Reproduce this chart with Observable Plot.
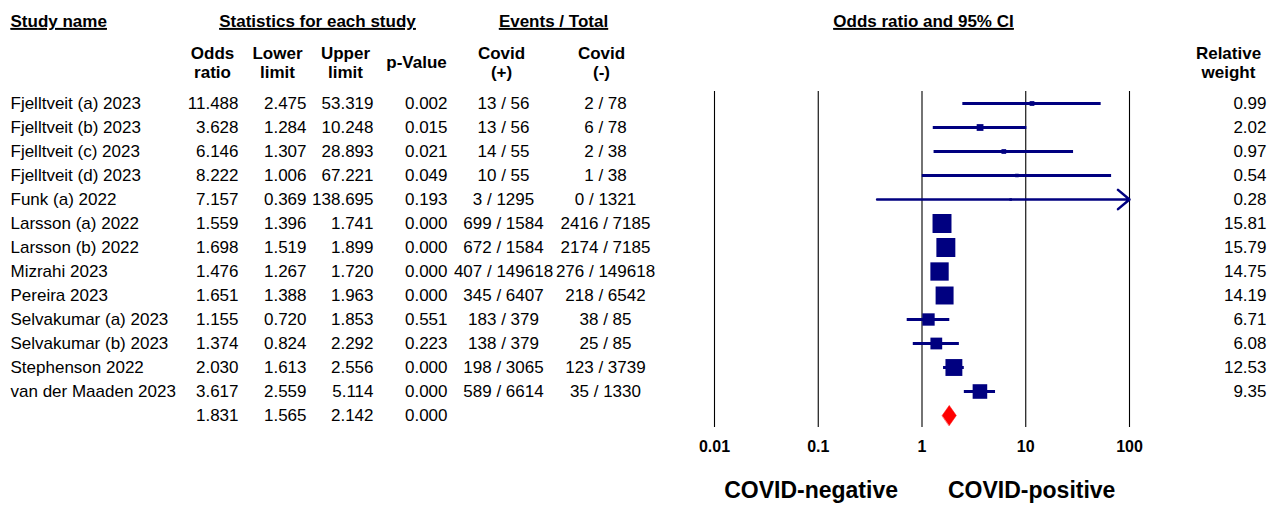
<!DOCTYPE html>
<html>
<head>
<meta charset="utf-8">
<script src="https://cdn.jsdelivr.net/npm/d3@7"></script>
<script src="https://cdn.jsdelivr.net/npm/@observablehq/plot@0.6"></script>
<style>
  body { margin: 0; background: #fff; }
  #chart { width: 1272px; height: 510px; }
</style>
</head>
<body>
<div id="chart"></div>
<script>
// ---- Data ----
const studies = [
  "Fjelltveit (a) 2023", "Fjelltveit (b) 2023", "Fjelltveit (c) 2023", "Fjelltveit (d) 2023",
  "Funk (a) 2022", "Larsson (a) 2022", "Larsson (b) 2022", "Mizrahi 2023", "Pereira 2023",
  "Selvakumar (a) 2023", "Selvakumar (b) 2023", "Stephenson 2022", "van der Maaden 2023"
];
const oddsRatio = [11.488, 3.628, 6.146, 8.222, 7.157, 1.559, 1.698, 1.476, 1.651, 1.155, 1.374, 2.030, 3.617];
const lowerLimit = [2.475, 1.284, 1.307, 1.006, 0.369, 1.396, 1.519, 1.267, 1.388, 0.720, 0.824, 1.613, 2.559];
const upperLimit = [53.319, 10.248, 28.893, 67.221, 138.695, 1.741, 1.899, 1.720, 1.963, 1.853, 2.292, 2.556, 5.114];
const pValue = [0.002, 0.015, 0.021, 0.049, 0.193, 0.000, 0.000, 0.000, 0.000, 0.551, 0.223, 0.000, 0.000];
const covidPosEvents = [13, 13, 14, 10, 3, 699, 672, 407, 345, 183, 138, 198, 589];
const covidPosTotal = [56, 56, 55, 55, 1295, 1584, 1584, 149618, 6407, 379, 379, 3065, 6614];
const covidNegEvents = [2, 6, 2, 1, 0, 2416, 2174, 276, 218, 38, 25, 123, 35];
const covidNegTotal = [78, 78, 38, 38, 1321, 7185, 7185, 149618, 6542, 85, 85, 3739, 1330];
const relativeWeight = [0.99, 2.02, 0.97, 0.54, 0.28, 15.81, 15.79, 14.75, 14.19, 6.71, 6.08, 12.53, 9.35];
// pooled estimate: odds ratio, lower, upper, p-value
const summaryStats = [1.831, 1.565, 2.142, 0.000];
const axisTicks = [0.01, 0.1, 1, 10, 100];
const axisTickLabels = ["0.01", "0.1", "1", "10", "100"];

// ---- Build table ----
const studyRows = studies.map((name, i) => ({
  i, name,
  or: oddsRatio[i], lo: lowerLimit[i], hi: upperLimit[i], p: pValue[i],
  pos: `${covidPosEvents[i]} / ${covidPosTotal[i]}`,
  neg: `${covidNegEvents[i]} / ${covidNegTotal[i]}`,
  w: relativeWeight[i]
}));
const summaryRow = {
  i: studyRows.length, name: "",
  or: summaryStats[0], lo: summaryStats[1], hi: summaryStats[2], p: summaryStats[3],
  pos: "", neg: "", w: null
};
const rows = [...studyRows, summaryRow];
const xMax = axisTicks[axisTicks.length - 1];

const diamondHalf = 0.42; // half-height of pooled diamond in row units
const diamond = [
  {x: summaryRow.lo, y: summaryRow.i},
  {x: summaryRow.or, y: summaryRow.i - diamondHalf},
  {x: summaryRow.hi, y: summaryRow.i},
  {x: summaryRow.or, y: summaryRow.i + diamondHalf}
];

const f3 = d3.format(".3f");
const f2 = d3.format(".2f");
const navy = "#000080";
const UNDERLINED = "#000001"; // near-black marker colour for underlined headers
const FONT = "'Liberation Sans', Arial, Helvetica, sans-serif";
const FS = 17;

// column layout (pixel anchors from the left of the figure)
const columns = [
  {get: d => d.name, dx: 10, anchor: "start"},
  {get: d => f3(d.or), dx: 238, anchor: "end"},
  {get: d => f3(d.lo), dx: 306, anchor: "end"},
  {get: d => f3(d.hi), dx: 373, anchor: "end"},
  {get: d => f3(d.p), dx: 447, anchor: "end"},
  {get: d => d.pos, dx: 503, anchor: "middle"},
  {get: d => d.neg, dx: 605, anchor: "middle"},
  {get: d => d.w == null ? "" : f2(d.w), dx: 1266, anchor: "end"}
];

const headers2 = [
  {t: "Odds\nratio", dx: 212},
  {t: "Lower\nlimit", dx: 277},
  {t: "Upper\nlimit", dx: 345},
  {t: "p-Value", dx: 416},
  {t: "Covid\n(+)", dx: 501},
  {t: "Covid\n(-)", dx: 601},
  {t: "Relative\nweight", dx: 1228}
];
const headers1 = [
  {t: "Study name", dx: 10, anchor: "start"},
  {t: "Statistics for each study", dx: 317, anchor: "middle"},
  {t: "Events / Total", dx: 553, anchor: "middle"},
  {t: "Odds ratio and 95% CI", dx: 923, anchor: "middle"}
];

const marginTop = 91, marginBottom = 83;

const marks = [
  // vertical reference lines at each decade
  Plot.ruleX(axisTicks, {x: d => d, stroke: "black", strokeWidth: 1.1}),
  // confidence intervals
  Plot.ruleY(studyRows.filter(d => d.hi <= xMax), {y: "i", x1: "lo", x2: "hi", stroke: navy, strokeWidth: 3}),
  Plot.arrow(studyRows.filter(d => d.hi > xMax), {
    x1: "lo", x2: d => Math.min(d.hi, xMax), y1: "i", y2: "i",
    stroke: navy, strokeWidth: 2.5, headLength: 9, headAngle: 80
  }),
  // study point estimates (square size by weight)
  Plot.dot(studyRows, {x: "or", y: "i", r: "w", symbol: "square", fill: navy, stroke: "none"}),
  // pooled diamond
  Plot.line(diamond, {x: "x", y: "y", curve: "linear-closed", fill: "#ff0000", stroke: "#ff0000", strokeWidth: 0.5}),
  // x axis labels
  Plot.axisX(axisTicks, {
    anchor: "bottom", tickSize: 0, tickPadding: 13,
    tickFormat: d => axisTickLabels[axisTicks.indexOf(d)],
    fontWeight: "bold", fontSize: 16, fill: "black", label: null
  }),
  // direction labels
  Plot.text(["COVID-negative"], {x: () => 1, text: d => d, frameAnchor: "bottom", lineAnchor: "middle", dy: 63, dx: -24, textAnchor: "end", fontWeight: "bold", fontSize: 23, fill: "black"}),
  Plot.text(["COVID-positive"], {x: () => 1, text: d => d, frameAnchor: "bottom", lineAnchor: "middle", dy: 63, dx: 26, textAnchor: "start", fontWeight: "bold", fontSize: 23, fill: "black"}),
  // table body
  ...columns.map(c => Plot.text(rows, {
    y: "i", text: c.get, frameAnchor: "left", dx: c.dx, textAnchor: c.anchor,
    fontSize: FS, fill: "black"
  })),
  // second header row (two-line)
  ...headers2.map(h => Plot.text([h.t], {
    text: d => d, frameAnchor: "top-left", dx: h.dx, dy: 62 - marginTop,
    textAnchor: "middle", lineAnchor: "middle", lineHeight: 1.1,
    fontWeight: "bold", fontSize: FS, fill: "black"
  })),
  // first header row (underlined)
  ...headers1.map(h => Plot.text([h.t], {
    text: d => d, frameAnchor: "top-left", dx: h.dx, dy: 21 - marginTop,
    textAnchor: h.anchor, lineAnchor: "middle", fontWeight: "bold", fontSize: FS, fill: UNDERLINED
  }))
];

const chart = Plot.plot({
  width: 1272,
  height: 510,
  marginTop, marginBottom, marginLeft: 0, marginRight: 0,
  style: {fontFamily: FONT, background: "#fff", color: "black", overflow: "visible"},
  x: {type: "log", domain: [axisTicks[0], xMax], range: [714, 1129]},
  y: {domain: [-0.5, rows.length - 0.5], reverse: true, axis: null},
  r: {range: [0, 10.7]},
  marks
});

chart.querySelectorAll(`[fill="${UNDERLINED}"]`).forEach(g => {
  g.style.textDecoration = "underline";
  g.querySelectorAll("text, tspan").forEach(t => t.style.textDecoration = "underline");
});

document.getElementById("chart").appendChild(chart);
</script>
</body>
</html>
